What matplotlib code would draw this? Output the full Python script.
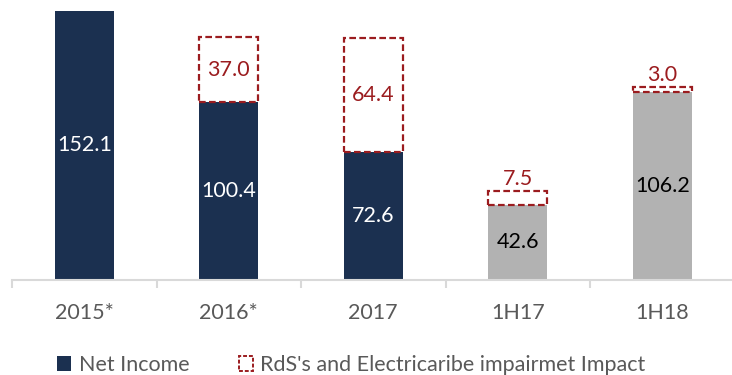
import matplotlib
matplotlib.use("Agg")
import matplotlib.pyplot as plt
from matplotlib.patches import Patch
import numpy as np

plt.rcParams['font.family'] = ['Lato', 'DejaVu Sans']

categories = ["2015*", "2016*", "2017", "1H17", "1H18"]
net_income = [152.1, 100.4, 72.6, 42.6, 106.2]
impairment = [None, 37.0, 64.4, 7.5, 3.0]
is_half_year = [False, False, False, True, True]

NAVY = "#1b3050"
GREY = "#b2b2b2"
RED = "#9b1c1f"
AXIS = "#d9d9d9"
TEXT = "#595959"
FS = 15.5

fig = plt.figure(figsize=(7.32, 3.75), dpi=100)
ax = fig.add_axes([12 / 732, 95 / 375, 722.5 / 732, 280 / 375])

x = np.arange(len(categories))
width = 0.41
colors = [GREY if h else NAVY for h in is_half_year]

ax.bar(x, net_income, width=width, color=colors, edgecolor="none", zorder=2)

for xi, base, imp in zip(x, net_income, impairment):
    if imp is None:
        continue
    ax.bar(xi, imp, width=width, bottom=base, facecolor="white", edgecolor=RED,
           linestyle=(0, (3, 1.5)), linewidth=1.6, zorder=3)

# value labels
for xi, v, h in zip(x, net_income, is_half_year):
    ax.text(xi, v / 2, f"{v:.1f}", ha="center", va="center", fontsize=FS,
            color="black" if h else "white", zorder=4)

for xi, base, imp in zip(x, net_income, impairment):
    if imp is None:
        continue
    if imp < 15:
        ax.text(xi, base + imp + 1.2, f"{imp:.1f}", ha="center", va="bottom",
                fontsize=FS, color=RED, zorder=4)
    else:
        ax.text(xi, base + imp / 2, f"{imp:.1f}", ha="center", va="center",
                fontsize=FS, color=RED, zorder=4)

ax.set_xlim(-0.5, len(categories) - 0.5)
ax.set_ylim(0, 158.3)

for side in ["top", "right", "left"]:
    ax.spines[side].set_visible(False)
ax.spines["bottom"].set_color(AXIS)
ax.spines["bottom"].set_linewidth(1.5)
ax.set_yticks([])

ax.set_xticks(x)
ax.set_xticklabels(categories, fontsize=FS, color=TEXT)
ax.tick_params(axis="x", which="major", length=0, pad=16.5)
ax.set_xticks(np.arange(-0.5, len(categories), 1.0), minor=True)
ax.tick_params(axis="x", which="minor", length=6, width=1.5, color=AXIS)

handles = [
    Patch(facecolor=NAVY, edgecolor="none", label="Net Income"),
    Patch(facecolor="white", edgecolor=RED, linestyle=(0, (2, 1)), linewidth=1.4,
          label="RdS's and Electricaribe impairmet Impact"),
]
fig.legend(handles=handles, loc="center left", bbox_to_anchor=(57 / 732, 1 - 365 / 375),
           ncol=2, frameon=False, fontsize=FS, handlelength=0.65, handleheight=0.65,
           handletextpad=0.35, columnspacing=2.3, labelcolor=TEXT, borderaxespad=0,
           borderpad=0)

fig.savefig("out.png", dpi=100)
